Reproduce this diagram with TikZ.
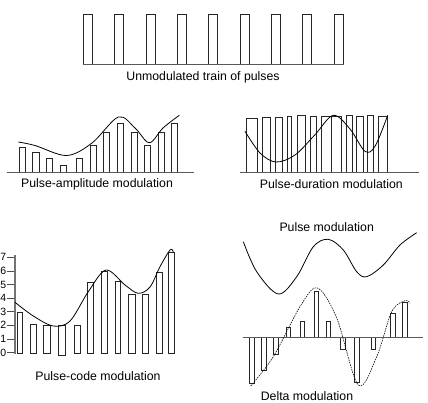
\documentclass[tikz,border=0pt]{standalone}
\usepackage{fontspec}
\setmainfont{Liberation Sans}
\begin{document}
\begin{tikzpicture}[x=1pt,y=-1pt,
  bar/.style={draw=black!85,line width=0.8pt},
  base/.style={draw=black!65,line width=0.9pt},
  sig/.style={draw=black,line width=0.8pt},
  dsig/.style={draw=black,line width=0.6pt,dash pattern=on 1.5pt off 1pt},
  lbl/.style={font=\fontsize{12.3}{14}\selectfont,inner sep=0pt},
  num/.style={font=\fontsize{10.5}{11}\selectfont,inner sep=0pt}]
\useasboundingbox (0,0) rectangle (428,402);
% ---------- Unmodulated train ----------
\foreach \i in {0,...,8}{
  \draw[bar] ({83.5+31.3*\i},64.3) rectangle ({92.5+31.3*\i},14.3);
}
\draw[base] (83,64.3) -- (344,64.3);
\node[lbl] (t1) at (203,77) {Unmodulated train of pulses};
% ---------- PAM ----------
\foreach \a/\b/\t in {19.3/25.7/147.3, 32.7/39.3/152.3, 46/52.3/158.7, 60.3/66/165.3,
  76.7/82.7/158.7, 90.3/96.7/145.3, 103.3/109.3/132.3, 117.3/123.3/123.3,
  131/137.3/132.3, 144.7/150.7/145.3, 158.7/164.7/132.3, 171/177.3/123.3}{
  \draw[bar] (\a,172.5) rectangle (\b,\t);
}
\draw[base] (6.7,172.5) -- (194,172.5);
\draw[sig] plot[smooth,tension=0.55] coordinates {(18.3,142) (35,145.5) (66.7,155.5)
  (92,143) (118.3,117) (135,128) (149.3,142.7) (163,128) (179.3,115.3)};
\node[lbl] (t2) at (97,184) {Pulse-amplitude modulation};
% ---------- PDM ----------
\foreach \a/\b/\t in {246.7/257.3/118.3, 262/270/117.3, 275.5/282.5/117.3, 287.5/291/116,
  297/305.7/115.7, 310.7/316.7/116.7, 321.5/331.5/116, 331.5/341.5/116,
  346.5/352/115, 356/363/116, 367/373.5/115, 378/387.7/116}{
  \draw[bar] (\a,172.5) rectangle (\b,\t);
}
\draw[base] (240,172.5) -- (419,172.5);
\draw[sig] plot[smooth,tension=0.55] coordinates {(245,131.3) (260,153) (276,162)
  (295,155) (315,134.7) (333.3,115.3) (350,129) (365,151.3) (375,146.3) (387.7,115.3)};
\node[lbl] (t3) at (331.3,184) {Pulse-duration modulation};
% ---------- PCM ----------
\draw[draw=black!55,line width=1.8pt] (15,255) -- (15,353.5);
\foreach \v in {0,...,7}{
  \draw[draw=black!70,line width=0.7pt] (6.5,{352.5-13.6*\v}) -- (14,{352.5-13.6*\v});
  \node[num] (n\v) at (3.2,{352.5-13.6*\v}) {\v};
}
\foreach \a/\b/\t/\bb in {17.3/22.7/312/353.5, 30.7/36.7/324/353.5, 43.3/50/325.7/353.5,
  58.3/65/325/355.5, 74/80.7/325/353.5, 87.7/93.3/282/353.5, 101.7/107.3/271/353.5,
  115/120.7/281/353.5, 128.7/135/294/353.5, 142/148.3/294/353.5, 156.7/162.7/272/353.5,
  168.7/174.3/252.5/353.5}{
  \draw[bar] (\a,\bb) rectangle (\b,\t);
}
\draw[sig] plot[smooth,tension=0.55] coordinates {(15,302.3) (33.3,316) (53.3,326)
  (70,321) (88.3,291.7) (106,270) (125,285) (138.3,293.3) (150,287) (160,266.7)
  (170,250) (173.3,251.7)};
\node[lbl] (t4) at (98,376) {Pulse-code modulation};
% ---------- Pulse modulation / Delta ----------
\node[lbl] (t5) at (326.7,227) {Pulse modulation};
\draw[sig] plot[smooth,tension=0.55] coordinates {(243.3,241.7) (256.7,271.7) (278.3,294)
  (296.7,276.7) (313.3,246.7) (328.3,239.3) (343.3,250) (356.7,271.7) (366.7,276.7)
  (383.3,265) (400,245) (416.7,232.7)};
\foreach \a/\b/\t in {249.3/254/383.3, 261.3/266/370.7, 273.3/278.3/354, 286.7/290.7/327.3,
  300/304/321.7, 314/318.7/291.7, 326.7/330.7/321.7, 340.7/345/349.3, 354.3/359/382.7,
  371.7/375.7/349.3, 390.3/395/313.3, 402.3/407/302.7}{
  \draw[bar] (\a,337.3) rectangle (\b,\t);
}
\draw[base] (243.3,337.3) -- (423.3,337.3);
\draw[dsig] plot[smooth,tension=0.55] coordinates {(250.7,386) (273.3,356.7)
  (300,306.7) (317.3,288) (336.7,318) (358.3,385) (376.7,356.7)
  (391.7,311.7) (405,300.7) (410,303.3)};
\node[lbl] (t6) at (307,396.5) {Delta modulation};
\end{tikzpicture}
\end{document}
